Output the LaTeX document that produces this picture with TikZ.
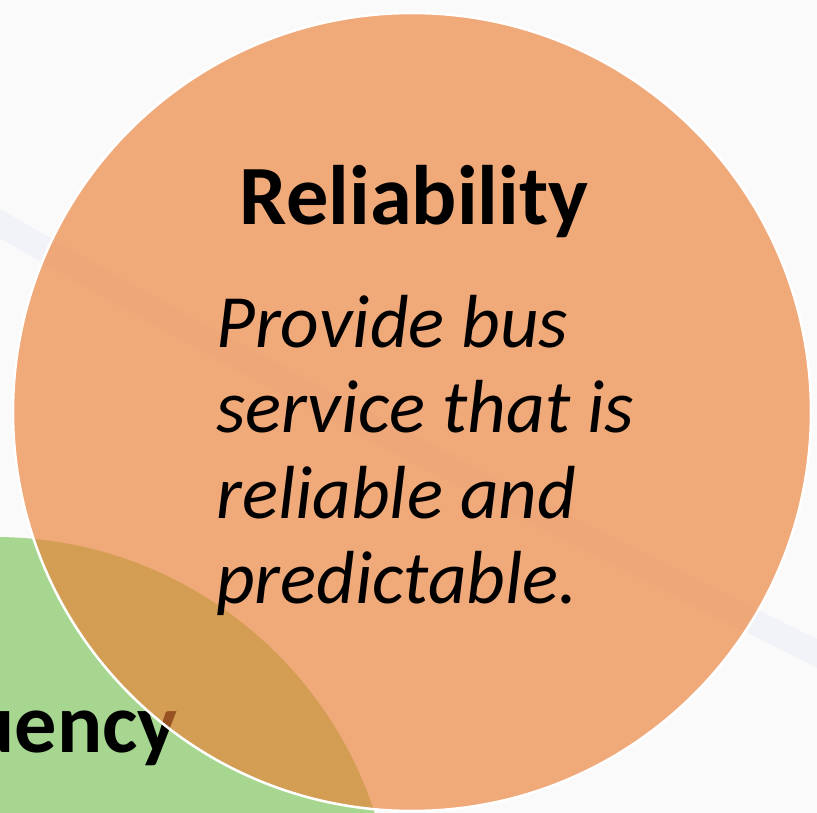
\documentclass[tikz,border=0pt]{standalone}
\usepackage{fontspec}
\setmainfont{Carlito}
\definecolor{relorange}{RGB}{235,127,53}
\definecolor{freqgreen}{RGB}{124,196,88}
\definecolor{swoosh}{RGB}{241,243,248}
\definecolor{backgr}{RGB}{250,250,250}
\tikzset{
  title/.style={font=\fontsize{60}{72}\selectfont\bfseries, inner sep=0pt},
  body/.style={font=\fontsize{53.5}{64}\selectfont\itshape, anchor=base west, inner sep=0pt},
}

\begin{document}
\begin{tikzpicture}[x=0.025cm,y=-0.025cm]
\clip (0,0) rectangle (817,813);
\fill[backgr] (0,0) rectangle (817,813);
\draw[swoosh, line width=18pt] (-20,212) .. controls (250,370) and (550,520) .. (840,665);

\fill[freqgreen, fill opacity=0.65] (-5,936) circle[radius=399];
\node[title, anchor=base east] (freq) at (178,752) {Frequency};

\fill[relorange, fill opacity=0.65] (412,412) circle[radius=399];
\draw[white, line width=1.8pt] (412,412) circle[radius=399];

\node[title, anchor=base] (rel) at (414,225) {Reliability};

\node[body] (b1) at (216,348) {Provide bus};
\node[body] (b2) at (216,433) {service that is};
\node[body] (b3) at (216,518) {reliable and};
\node[body] (b4) at (216,603) {predictable.};
\end{tikzpicture}
\end{document}
